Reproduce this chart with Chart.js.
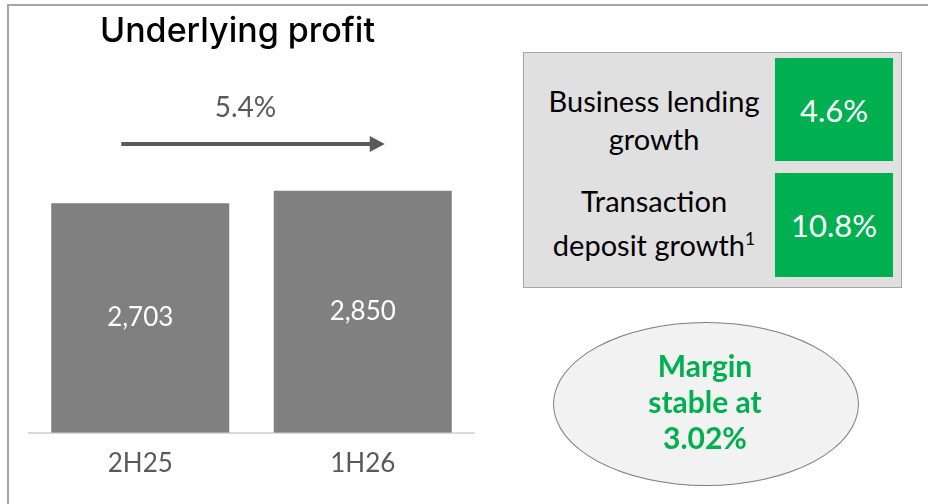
<!DOCTYPE html>
<html>
<head>
<meta charset="utf-8">
<script src="https://cdn.jsdelivr.net/npm/chart.js@4"></script>
<style>
  body { margin: 0; background: #fff; }
  #wrap { position: relative; width: 928px; height: 504px; overflow: hidden; font-family: Lato, sans-serif; }
  #frame { position: absolute; left: 7px; top: 4px; width: 1000px; height: 600px;
           border-left: 2px solid #a6a6a6; border-top: 2px solid #a6a6a6; }
  #cnv { position: absolute; left: 0; top: 0; }
  #title { position: absolute; left: 100px; top: 9px; font-family: Inter, sans-serif;
           font-weight: 500; font-size: 34px; color: #000; white-space: nowrap; }
  #panel { position: absolute; left: 523px; top: 52px; width: 377px; height: 234px;
           background: #e0e0e0; border: 1.5px solid #a6a6a6; }
  .lbl { position: absolute; left: 523px; width: 262px; text-align: center;
         font-size: 29px; line-height: 38px; color: #000; }
  .val { position: absolute; left: 775px; width: 118px; background: #00b050; color: #fff;
         display: flex; align-items: center; justify-content: center; font-size: 31px; }
  #oval { position: absolute; left: 553px; top: 322px; width: 306px; height: 164px;
          border-radius: 50%; background: #f2f2f2; border: 1px solid #7f7f7f; box-sizing: border-box; }
  #ovalText { position: absolute; left: 590px; top: 347px; width: 230px; text-align: center;
              font-weight: bold; font-size: 30px; line-height: 36px; color: #00b050; }
</style>
</head>
<body>
<div id="wrap">
  <div id="frame"></div>
  <canvas id="cnv" width="928" height="504"></canvas>
  <div id="title">Underlying profit</div>
  <div id="panel"></div>
  <div id="oval"></div>
  <div id="ovalText"></div>
</div>
<script>
// bar data
const periods = ['2H25', '1H26']
const profit = [2703, 2850]

// side panel
const metricNames = [['Business lending', 'growth'], ['Transaction', 'deposit growth<sup style="font-size:0.6em">1</sup>']]
const metricValues = ['4.6%', '10.8%']
const marginLines = ['Margin', 'stable at', '3.02%']

// build side panel
const wrap = document.getElementById('wrap')
const rowTops = [58, 173]
const rowHeights = [103, 104]
const labelTops = [82, 182]
metricNames.forEach((lines, i) => {
  let lbl = document.createElement('div')
  lbl.className = 'lbl'
  lbl.style.top = labelTops[i] + 'px'
  lbl.innerHTML = lines.join('<br>')
  wrap.appendChild(lbl)
  let val = document.createElement('div')
  val.className = 'val'
  val.style.top = rowTops[i] + 'px'
  val.style.height = rowHeights[i] + 'px'
  val.textContent = metricValues[i]
  wrap.appendChild(val)
})
document.getElementById('ovalText').innerHTML = marginLines.join('<br>')

const barLabels = {
  id: 'barLabels',
  afterDatasetsDraw(chart) {
    let ctx = chart.ctx
    let meta = chart.getDatasetMeta(0)
    ctx.save()
    ctx.font = '26px Lato'
    ctx.fillStyle = '#ffffff'
    ctx.textAlign = 'center'
    ctx.textBaseline = 'middle'
    meta.data.forEach((bar, i) => {
      ctx.fillText(profit[i].toLocaleString('en-US'), bar.x, (bar.y + bar.base) / 2)
    })
    ctx.restore()
  }
}

const growthArrow = {
  id: 'growthArrow',
  afterDraw(chart) {
    let ctx = chart.ctx
    let meta = chart.getDatasetMeta(0)
    let x0 = meta.data[0].x - 19
    let x1 = meta.data[1].x + 22
    let y = 144
    ctx.save()
    ctx.strokeStyle = '#595959'
    ctx.fillStyle = '#595959'
    ctx.lineWidth = 4
    ctx.beginPath()
    ctx.moveTo(x0, y)
    ctx.lineTo(x1 - 12, y)
    ctx.stroke()
    ctx.beginPath()
    ctx.moveTo(x1 - 15, y - 8)
    ctx.lineTo(x1, y)
    ctx.lineTo(x1 - 15, y + 8)
    ctx.closePath()
    ctx.fill()
    let pct = ((profit[1] / profit[0] - 1) * 100).toFixed(1) + '%'
    ctx.font = '28px Lato'
    ctx.textAlign = 'center'
    ctx.textBaseline = 'alphabetic'
    ctx.fillText(pct, (x0 + x1 - 15) / 2, 117)
    ctx.restore()
  }
}

new Chart(document.getElementById('cnv'), {
  type: 'bar',
  data: {
    labels: periods,
    datasets: [{
      data: profit,
      backgroundColor: '#808080',
      categoryPercentage: 0.8,
      barPercentage: 1.0,
    }],
  },
  options: {
    responsive: false,
    devicePixelRatio: 1,
    animation: false,
    layout: { padding: { left: 29, right: 454, top: 178, bottom: 10 } },
    plugins: { legend: { display: false }, tooltip: { enabled: false } },
    scales: {
      x: {
        grid: { display: false, drawTicks: false },
        border: { display: true, color: '#d9d9d9', width: 2 },
        ticks: { font: { family: 'Lato', size: 26 }, color: '#595959', padding: 15 },
      },
      y: { display: false, min: 0, max: 3000 },
    },
  },
  plugins: [barLabels, growthArrow],
})
</script>
</body>
</html>
